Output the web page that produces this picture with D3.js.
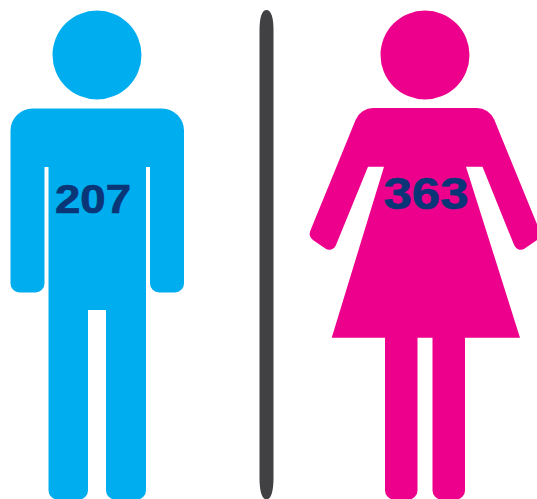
<!DOCTYPE html>
<html>
<head>
<meta charset="utf-8">
<script src="https://cdn.jsdelivr.net/npm/d3@7"></script>
<style>
html, body { margin: 0; padding: 0; background: #fff; overflow: hidden; }
svg { display: block; }
</style>
</head>
<body>
<script>
var categories = ['Men', 'Women'];
var counts = [207, 363];
var colours = ['#00aeef', '#ec008c'];
var labelColour = '#0a3678';

var width = 537, height = 499;

var x = d3.scalePoint().domain(categories).range([97, 425]);

var svg = d3.select('body').append('svg')
	.attr('width', width).attr('height', height);

// outline points are [dx from figure centre, y, corner radius]
var manOutline = [
	[-86.5, 108.5, 22], [87, 108.5, 22], [87, 292.5, 9], [53, 292.5, 9], [53, 167, 0], [49, 167, 0],
	[49, 499.5, 9], [9, 499.5, 9], [9, 310, 0], [-9, 310, 0], [-9, 499.5, 9], [-48.5, 499.5, 9],
	[-48.5, 167, 0], [-52.5, 167, 0], [-52.5, 292.5, 9], [-86.5, 292.5, 9]
];
var womanOutline = [
	[-64.5, 108, 19], [64.5, 108, 19], [117, 236.5, 8], [92.5, 253.5, 7], [57.5, 166.7, 0], [41, 166.7, 0],
	[95, 337.7, 0], [40, 337.7, 0], [40, 499.5, 9], [7.5, 499.5, 9], [7.5, 337.7, 0], [-7.5, 337.7, 0],
	[-7.5, 499.5, 9], [-40, 499.5, 9], [-40, 337.7, 0], [-93.3, 337.7, 0], [-41, 166.7, 0], [-57, 166.7, 0],
	[-92.5, 253.5, 7], [-117, 236.5, 8]
];
var outlines = [manOutline, womanOutline];

var labelY = [213, 209];
var labelSize = [40, 44];
var labelWidth = [76, 85];

function roundedPath(pts, cx) {
	var p = d3.path();
	var n = pts.length;
	var last = pts[n - 1], first = pts[0];
	p.moveTo(cx + (last[0] + first[0]) / 2, (last[1] + first[1]) / 2);
	pts.forEach(function(pt, i) {
		var next = pts[(i + 1) % n];
		p.arcTo(cx + pt[0], pt[1], cx + next[0], next[1], pt[2]);
	});
	p.closePath();
	return p.toString();
}

var figures = svg.selectAll('g.figure')
	.data(categories)
	.enter().append('g')
	.attr('class', 'figure');

figures.append('circle')
	.attr('cx', function(d) { return x(d); })
	.attr('cy', 55)
	.attr('r', 44.5)
	.attr('fill', function(d, i) { return colours[i]; });

figures.append('path')
	.attr('d', function(d, i) { return roundedPath(outlines[i], x(d)); })
	.attr('fill', function(d, i) { return colours[i]; });

figures.append('text')
	.attr('x', function(d, i) { return i === 0 ? 93 : 426; })
	.attr('y', function(d, i) { return labelY[i]; })
	.attr('text-anchor', 'middle')
	.attr('font-family', '"Liberation Sans", Arial, sans-serif')
	.attr('font-weight', 'bold')
	.attr('font-size', function(d, i) { return labelSize[i]; })
	.attr('textLength', function(d, i) { return labelWidth[i]; })
	.attr('lengthAdjust', 'spacingAndGlyphs')
	.attr('fill', labelColour)
	.attr('stroke', labelColour)
	.attr('stroke-width', 0.7)
	.text(function(d, i) { return counts[i]; });

// divider, tapered to a point at both ends
var divider = d3.path();
divider.moveTo(259.5, 30);
divider.bezierCurveTo(259.5, 17, 262, 10, 266.5, 10);
divider.bezierCurveTo(271, 10, 273.5, 17, 273.5, 30);
divider.lineTo(273.5, 478);
divider.bezierCurveTo(273.5, 491, 271, 499.5, 266.5, 499.5);
divider.bezierCurveTo(262, 499.5, 259.5, 491, 259.5, 478);
divider.closePath();
svg.append('path').attr('d', divider.toString()).attr('fill', '#414042');
</script>
</body>
</html>
